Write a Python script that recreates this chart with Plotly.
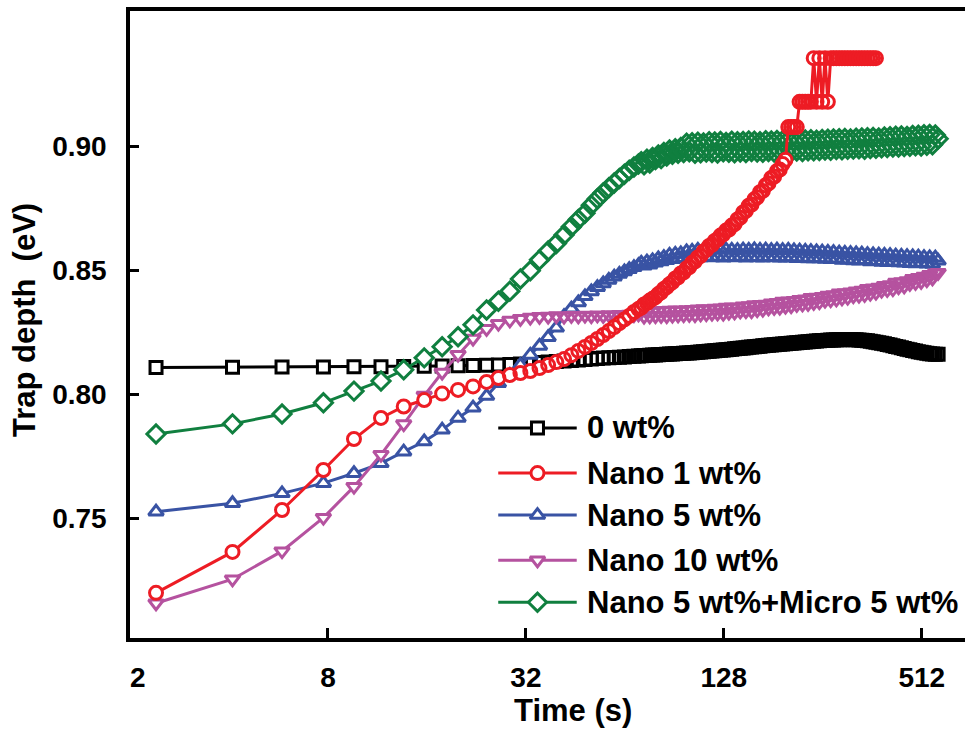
import math
import plotly.graph_objects as go

# ---------------- data ----------------
time_s = [2.4, 4.1, 5.8, 7.75, 9.6, 11.6, 13.6, 15.7, 17.8, 19.9, 22.1, 24.3, 26.4,
          28.6, 30.8, 33.0, 35.2, 37.4, 39.6, 41.8, 44.0, 46.2, 48.4, 50.6, 52.8, 55.0,
          57.2, 59.4, 61.6, 63.8, 66.0, 68.2, 70.4,
          71.8, 73.2, 74.7, 76.2, 77.7, 79.3, 80.9, 82.5, 84.1, 85.8,
          87.5, 89.3, 91.1, 92.9, 94.7, 96.6, 98.6, 100.5, 102.5, 104.6,
          106.7, 108.8, 111.0, 113.2, 115.5, 117.8, 120.1, 122.5, 125.0, 127.5,
          130.0, 132.6, 135.3, 138.0, 140.8, 143.6, 146.5, 149.4, 152.4, 155.4,
          158.5, 161.7, 164.9, 168.2, 171.6, 175.0, 178.5, 182.1, 185.7, 189.4,
          193.2, 197.1, 201.0, 205.1, 209.2, 213.3, 217.6, 222.0, 226.4, 230.9,
          235.5, 240.2, 245.0, 249.9, 254.9, 260.0, 265.2, 270.5, 275.9, 281.5,
          287.1, 292.8, 298.7, 304.7, 310.8, 317.0, 323.3, 329.8, 336.4, 343.1,
          350.0, 357.0, 364.1, 371.4, 378.8, 386.4, 394.1, 402.0, 410.0, 418.2,
          426.6, 435.1, 443.8, 452.7, 461.8, 471.0, 480.4, 490.0, 499.8, 509.8,
          520.0, 530.4, 541.0, 551.8, 562.9, 574.1]

wt0 = [0.8108, 0.8109, 0.8110, 0.8110, 0.8111, 0.8111, 0.8112, 0.8113, 0.8114, 0.8115,
       0.8116, 0.8117, 0.8118, 0.8120, 0.8122, 0.8125, 0.8128, 0.8130, 0.8132, 0.8134,
       0.8136, 0.8138, 0.8140, 0.8142, 0.8144, 0.8146, 0.8147, 0.8149, 0.8150, 0.8151,
       0.8153, 0.8154, 0.8155,
       0.8156, 0.8157, 0.8157, 0.8158, 0.8159, 0.8159, 0.8160, 0.8161, 0.8161, 0.8162,
       0.8163, 0.8163, 0.8164, 0.8165, 0.8165, 0.8166, 0.8167, 0.8167, 0.8168, 0.8169,
       0.8170, 0.8171, 0.8172, 0.8173, 0.8174, 0.8175, 0.8176, 0.8177, 0.8178, 0.8179,
       0.8180, 0.8181, 0.8182, 0.8184, 0.8185, 0.8186, 0.8187, 0.8188, 0.8190, 0.8191,
       0.8192, 0.8193, 0.8194, 0.8196, 0.8197, 0.8198, 0.8199, 0.8200, 0.8201, 0.8202,
       0.8203, 0.8204, 0.8205, 0.8206, 0.8207, 0.8208, 0.8209, 0.8210, 0.8211, 0.8212,
       0.8213, 0.8214, 0.8215, 0.8216, 0.8217, 0.8217, 0.8218, 0.8219, 0.8219, 0.8220,
       0.8220, 0.8220, 0.8221, 0.8221, 0.8221, 0.8220, 0.8220, 0.8219, 0.8218, 0.8217,
       0.8216, 0.8214, 0.8212, 0.8210, 0.8208, 0.8206, 0.8204, 0.8201, 0.8199, 0.8196,
       0.8193, 0.8191, 0.8188, 0.8185, 0.8182, 0.8180, 0.8177, 0.8175, 0.8172, 0.8170,
       0.8168, 0.8166, 0.8164, 0.8163, 0.8162, 0.8162]

nano1 = [0.7200, 0.7365, 0.7534, 0.7695, 0.7820, 0.7905, 0.7951, 0.7977, 0.8003, 0.8018,
         0.8032, 0.8050, 0.8066, 0.8078, 0.8086, 0.8094, 0.8106, 0.8118, 0.8130, 0.8142,
         0.8158, 0.8175, 0.8191, 0.8207, 0.8223, 0.8239, 0.8255, 0.8271, 0.8287, 0.8302,
         0.8316, 0.8332, 0.8344,
         0.8350, 0.8362, 0.8368, 0.8378, 0.8385, 0.8392, 0.8404, 0.8411, 0.8425, 0.8432,
         0.8444, 0.8452, 0.8467, 0.8472, 0.8487, 0.8492, 0.8508, 0.8513, 0.8530, 0.8536,
         0.8552, 0.8558, 0.8576, 0.8582, 0.8598, 0.8603, 0.8618, 0.8624, 0.8640, 0.8645,
         0.8660, 0.8664, 0.8680, 0.8686, 0.8705, 0.8712, 0.8733, 0.8740, 0.8760, 0.8765,
         0.8786, 0.8794, 0.8815, 0.8820, 0.8842, 0.8850, 0.8872, 0.8878, 0.8900, 0.8906,
         0.8928, 0.8945, 0.9077, 0.9077, 0.9077, 0.9077, 0.9179, 0.9179, 0.9179, 0.9179,
         0.9179, 0.9355, 0.9179, 0.9355, 0.9179, 0.9355, 0.9179, 0.9355, 0.9355, 0.9355,
         0.9355, 0.9355, 0.9355, 0.9355, 0.9355, 0.9355, 0.9355, 0.9355, 0.9355, 0.9355,
         0.9355, 0.9355, 0.9355, 0.9355]

nano5 = [0.7527, 0.7561, 0.7601, 0.7642, 0.7682, 0.7722, 0.7769, 0.7810, 0.7857, 0.7905,
         0.7946, 0.7993, 0.8045, 0.8078, 0.8118, 0.8159, 0.8195, 0.8230, 0.8268, 0.8315,
         0.8345, 0.8370, 0.8395, 0.8415, 0.8432, 0.8447, 0.8461, 0.8474, 0.8485, 0.8495,
         0.8504, 0.8512, 0.8520,
         0.8530, 0.8518, 0.8535, 0.8522, 0.8540, 0.8530, 0.8548, 0.8535, 0.8553, 0.8540,
         0.8562, 0.8544, 0.8566, 0.8547, 0.8568, 0.8548, 0.8576, 0.8550, 0.8578, 0.8549,
         0.8582, 0.8552, 0.8581, 0.8553, 0.8583, 0.8552, 0.8582, 0.8554, 0.8584, 0.8551,
         0.8583, 0.8553, 0.8582, 0.8552, 0.8581, 0.8554, 0.8583, 0.8551, 0.8582, 0.8553,
         0.8584, 0.8552, 0.8582, 0.8551, 0.8583, 0.8553, 0.8581, 0.8552, 0.8583, 0.8551,
         0.8581, 0.8551, 0.8582, 0.8552, 0.8580, 0.8549, 0.8579, 0.8550, 0.8578, 0.8548,
         0.8577, 0.8547, 0.8576, 0.8548, 0.8575, 0.8545, 0.8574, 0.8544, 0.8573, 0.8546,
         0.8571, 0.8541, 0.8570, 0.8542, 0.8569, 0.8539, 0.8568, 0.8538, 0.8567, 0.8540,
         0.8565, 0.8535, 0.8564, 0.8536, 0.8563, 0.8533, 0.8562, 0.8532, 0.8561, 0.8534,
         0.8559, 0.8531, 0.8558, 0.8530, 0.8557, 0.8528, 0.8556, 0.8527, 0.8555, 0.8529,
         0.8553, 0.8526, 0.8552, 0.8525, 0.8551, 0.8538]

nano10 = [0.7158, 0.7255, 0.7368, 0.7503, 0.7628, 0.7757, 0.7880, 0.7995, 0.8088, 0.8160,
          0.8225, 0.8264, 0.8285, 0.8298, 0.8305, 0.8310, 0.8313, 0.8314, 0.8316, 0.8314,
          0.8317, 0.8315, 0.8318, 0.8316, 0.8319, 0.8317, 0.8320, 0.8318, 0.8321, 0.8319,
          0.8322, 0.8320, 0.8323,
          0.8334, 0.8314, 0.8335, 0.8315, 0.8334, 0.8316, 0.8336, 0.8317, 0.8337, 0.8316,
          0.8338, 0.8318, 0.8339, 0.8319, 0.8338, 0.8320, 0.8340, 0.8321, 0.8341, 0.8320,
          0.8343, 0.8323, 0.8344, 0.8324, 0.8343, 0.8326, 0.8346, 0.8327, 0.8347, 0.8326,
          0.8350, 0.8330, 0.8351, 0.8331, 0.8350, 0.8335, 0.8355, 0.8336, 0.8356, 0.8336,
          0.8360, 0.8340, 0.8361, 0.8342, 0.8362, 0.8347, 0.8367, 0.8349, 0.8369, 0.8350,
          0.8374, 0.8354, 0.8375, 0.8356, 0.8377, 0.8361, 0.8381, 0.8363, 0.8383, 0.8365,
          0.8389, 0.8369, 0.8390, 0.8372, 0.8393, 0.8378, 0.8398, 0.8380, 0.8400, 0.8383,
          0.8407, 0.8387, 0.8408, 0.8390, 0.8411, 0.8396, 0.8416, 0.8398, 0.8419, 0.8401,
          0.8426, 0.8406, 0.8428, 0.8410, 0.8431, 0.8418, 0.8438, 0.8421, 0.8441, 0.8424,
          0.8451, 0.8432, 0.8453, 0.8436, 0.8457, 0.8446, 0.8466, 0.8450, 0.8470, 0.8454,
          0.8475, 0.8461, 0.8482, 0.8468, 0.8488, 0.8490]

nano5_micro5 = [0.7840, 0.7881, 0.7921, 0.7966, 0.8013, 0.8054, 0.8099, 0.8147, 0.8192, 0.8232,
                0.8280, 0.8340, 0.8375, 0.8416, 0.8465, 0.8498, 0.8542, 0.8578, 0.8608, 0.8642,
                0.8675, 0.8705, 0.8730, 0.8762, 0.8788, 0.8812, 0.8833, 0.8852, 0.8870, 0.8887,
                0.8903, 0.8916, 0.8928,
                0.8938, 0.8925, 0.8948, 0.8932, 0.8955, 0.8946, 0.8965, 0.8950, 0.8975, 0.8960,
                0.8985, 0.8968, 0.8990, 0.8972, 0.8995, 0.8975, 0.9012, 0.8978, 0.9014, 0.8972,
                0.9016, 0.8974, 0.9013, 0.8977, 0.9018, 0.8975, 0.9017, 0.8973, 0.9019, 0.8978,
                0.9015, 0.8976, 0.9020, 0.8974, 0.9018, 0.8977, 0.9019, 0.8975, 0.9021, 0.8979,
                0.9020, 0.8977, 0.9018, 0.8976, 0.9022, 0.8979, 0.9021, 0.8977, 0.9023, 0.8980,
                0.9022, 0.8979, 0.9024, 0.8978, 0.9021, 0.8981, 0.9024, 0.8979, 0.9025, 0.8982,
                0.9026, 0.8982, 0.9024, 0.8983, 0.9027, 0.8985, 0.9028, 0.8984, 0.9029, 0.8987,
                0.9030, 0.8986, 0.9031, 0.8988, 0.9029, 0.8989, 0.9032, 0.8990, 0.9033, 0.8988,
                0.9034, 0.8991, 0.9035, 0.8992, 0.9033, 0.8994, 0.9037, 0.8995, 0.9038, 0.8997,
                0.9040, 0.8997, 0.9041, 0.8999, 0.9039, 0.9000, 0.9043, 0.9002, 0.9044, 0.9001,
                0.9046, 0.9004, 0.9047, 0.9006, 0.9045, 0.9030]

series_names = ["0 wt%", "Nano 1 wt%", "Nano 5 wt%", "Nano 10 wt%", "Nano 5 wt%+Micro 5 wt%"]
x_tick_vals = [2, 8, 32, 128, 512]
x_tick_text = ["\u00a0\u00a02", "8", "32", "128", "512"]
y_tick_vals = [0.75, 0.80, 0.85, 0.90]

values = [wt0, nano1, nano5, nano10, nano5_micro5]
for v in values:
    assert len(v) <= len(time_s)

# ---------------- styling ----------------
colors = ["#000000", "#ED1C24", "#3953A4", "#B5529F", "#107F3F"]
symbols = ["square", "circle", "triangle-up", "triangle-down", "diamond"]
sizes = [12, 13, 13, 13, 14]
FONT = "Liberation Sans, Arial, Helvetica, sans-serif"
draw_order = [0, 2, 3, 4, 1]

fig = go.Figure()
for i in draw_order:
    vals = values[i]
    xs = time_s[:len(vals)]
    # connecting line
    fig.add_trace(go.Scatter(x=xs, y=vals, mode="lines", line=dict(color=colors[i], width=3),
                             showlegend=False, hoverinfo="skip", xaxis="x", yaxis="y"))
    # white marker interiors (hide the line inside the symbols)
    fig.add_trace(go.Scatter(x=xs, y=vals, mode="markers",
                             marker=dict(symbol=symbols[i], size=sizes[i] - 2, color="white",
                                         line=dict(width=0)),
                             showlegend=False, hoverinfo="skip", xaxis="x", yaxis="y"))
    # hollow symbol outlines (overlap into a solid band where data are dense)
    fig.add_trace(go.Scatter(x=xs, y=vals, mode="markers", name=series_names[i],
                             marker=dict(symbol=symbols[i] + "-open", size=sizes[i],
                                         color=colors[i], line=dict(width=3)),
                             showlegend=False, xaxis="x", yaxis="y"))

# custom legend drawn on an overlay axis in plot-fraction units
leg_x0, leg_xm, leg_x1 = 0.441, 0.488, 0.535
leg_text_x = 0.545
leg_rows = [0.335, 0.263, 0.196, 0.124, 0.057]
for i in range(5):
    fig.add_trace(go.Scatter(x=[leg_x0, leg_x1], y=[leg_rows[i]] * 2, mode="lines",
                             line=dict(color=colors[i], width=3), showlegend=False,
                             hoverinfo="skip", xaxis="x2", yaxis="y2"))
    fig.add_trace(go.Scatter(x=[leg_xm], y=[leg_rows[i]], mode="markers",
                             marker=dict(symbol=symbols[i], size=sizes[i], color="white",
                                         line=dict(color=colors[i], width=3)),
                             showlegend=False, hoverinfo="skip", xaxis="x2", yaxis="y2"))
    fig.add_annotation(x=leg_text_x, y=leg_rows[i], xref="x2", yref="y2", text=series_names[i],
                       showarrow=False, xanchor="left", yanchor="middle",
                       font=dict(family=FONT, size=31, color="black", weight="bold"))

fig.add_annotation(x=0.5305, y=-0.115, xref="paper", yref="paper", text="Time (s)",
                   showarrow=False, xanchor="center", yanchor="middle",
                   font=dict(family=FONT, size=31, color="black", weight="bold"))
fig.add_annotation(x=-0.127, y=0.507, xref="paper", yref="paper", text="Trap depth  (eV)",
                   textangle=-90, showarrow=False, xanchor="center", yanchor="middle",
                   font=dict(family=FONT, size=31, color="black", weight="bold"))

fig.update_layout(
    width=965, height=731,
    margin=dict(l=130, r=0, t=11, b=93),
    paper_bgcolor="white", plot_bgcolor="white",
    showlegend=False,
    xaxis=dict(type="log", range=[math.log10(2), math.log10(693)],
               tickvals=x_tick_vals, ticktext=x_tick_text,
               ticks="inside", ticklen=10, tickwidth=3, tickcolor="black",
               showline=True, linewidth=3.5, linecolor="black", mirror=True,
               showgrid=False, zeroline=False, ticklabelstandoff=12,
               tickfont=dict(family=FONT, size=28, color="black", weight="bold")),
    yaxis=dict(range=[0.7018, 0.9545], tickvals=y_tick_vals, tickformat=".2f",
               ticks="inside", ticklen=9, tickwidth=3, tickcolor="black",
               showline=True, linewidth=3.5, linecolor="black",
               showgrid=False, zeroline=False, ticklabelstandoff=14,
               tickfont=dict(family=FONT, size=28, color="black", weight="bold")),
    xaxis2=dict(overlaying="x", range=[0, 1], visible=False),
    yaxis2=dict(overlaying="y", range=[0, 1], visible=False),
)

fig.write_html("out.html")
